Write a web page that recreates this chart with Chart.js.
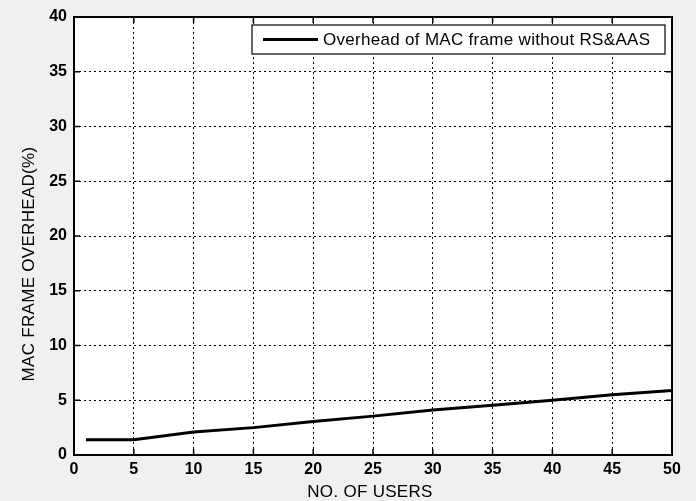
<!DOCTYPE html>
<html>
<head>
<meta charset="utf-8">
<script src="https://cdn.jsdelivr.net/npm/chart.js@4"></script>
<style>
  html, body { margin: 0; padding: 0; background: #f0f0f0; }
  #wrap { width: 696px; height: 501px; }
</style>
</head>
<body>
<div id="wrap"><canvas id="overheadChart" width="696" height="501"></canvas></div>
<script>
// values
const users = [1, 5, 10, 15, 20, 25, 30, 35, 40, 45, 50];
const overhead = [1.4, 1.4, 2.1, 2.5, 3.05, 3.55, 4.1, 4.55, 5.0, 5.5, 5.9];
const xTicks = [0, 5, 10, 15, 20, 25, 30, 35, 40, 45, 50];
const yTicks = [0, 5, 10, 15, 20, 25, 30, 35, 40];
const seriesLabel = 'Overhead of MAC frame without RS&AAS';
const xTitle = 'NO. OF USERS';
const yTitle = 'MAC FRAME OVERHEAD(%)';

const FONT = '"Liberation Sans", Arial, sans-serif';

// white plot background, box frame with inward ticks, legend box, axis titles
const plotFrame = {
    id: 'plotFrame',
    beforeDraw(chart) {
        const { ctx, chartArea: a } = chart;
        ctx.save();
        ctx.fillStyle = '#ffffff';
        ctx.fillRect(a.left, a.top, a.right - a.left, a.bottom - a.top);
        ctx.restore();
    },
    afterDatasetsDraw(chart) {
        const { ctx, chartArea: a, scales } = chart;
        ctx.save();
        ctx.strokeStyle = '#000';
        ctx.lineWidth = 1.5;
        ctx.beginPath();
        xTicks.forEach(v => {
            const px = scales.x.getPixelForValue(v);
            ctx.moveTo(px, a.bottom); ctx.lineTo(px, a.bottom - 6);
            ctx.moveTo(px, a.top); ctx.lineTo(px, a.top + 6);
        });
        yTicks.forEach(v => {
            const py = scales.y.getPixelForValue(v);
            ctx.moveTo(a.left, py); ctx.lineTo(a.left + 6, py);
            ctx.moveTo(a.right, py); ctx.lineTo(a.right - 6, py);
        });
        ctx.stroke();
        ctx.lineWidth = 2;
        ctx.strokeRect(a.left, a.top, a.right - a.left, a.bottom - a.top);

        // legend box
        const boxL = 252, boxR = a.right - 7, boxT = a.top + 8, boxB = a.top + 37;
        ctx.fillStyle = '#fff';
        ctx.fillRect(boxL, boxT, boxR - boxL, boxB - boxT);
        ctx.lineWidth = 1.2;
        ctx.strokeRect(boxL, boxT, boxR - boxL, boxB - boxT);
        const midY = (boxT + boxB) / 2;
        ctx.lineWidth = 3;
        ctx.beginPath();
        ctx.moveTo(boxL + 11, midY);
        ctx.lineTo(boxL + 66, midY);
        ctx.stroke();
        ctx.fillStyle = '#000';
        ctx.font = '17px ' + FONT;
        ctx.letterSpacing = '0.3px';
        ctx.textBaseline = 'middle';
        ctx.fillText(chart.data.datasets[0].label, boxL + 71, midY + 1);

        // axis titles
        ctx.font = '17px ' + FONT;
        ctx.textAlign = 'center';
        ctx.fillText(xTitle, 370, 492);
        ctx.translate(29, 264);
        ctx.rotate(-Math.PI / 2);
        ctx.fillText(yTitle, 0, 0);
        ctx.restore();
    }
};

new Chart(document.getElementById('overheadChart'), {
    type: 'line',
    plugins: [plotFrame],
    data: {
        datasets: [{
            label: seriesLabel,
            data: users.map((u, i) => ({ x: u, y: overhead[i] })),
            borderColor: '#000',
            borderWidth: 3,
            pointRadius: 0,
            tension: 0,
            fill: false
        }]
    },
    options: {
        responsive: false,
        animation: false,
        layout: { padding: { left: 20, right: 24, top: 17, bottom: 0 } },
        plugins: { legend: { display: false }, tooltip: { enabled: false } },
        scales: {
            x: {
                type: 'linear',
                min: 0,
                max: 50,
                afterFit: s => { s.height = 46; },
                afterBuildTicks: s => { s.ticks = xTicks.map(v => ({ value: v })); },
                grid: { color: '#000', lineWidth: 1, drawTicks: false },
                border: { display: false, dash: [2, 3] },
                ticks: {
                    color: '#000',
                    padding: 5,
                    font: { family: FONT, size: 16, weight: 'bold' }
                }
            },
            y: {
                min: 0,
                max: 40,
                afterFit: s => { s.width = 54; },
                afterBuildTicks: s => { s.ticks = yTicks.map(v => ({ value: v })); },
                grid: { color: '#000', lineWidth: 1, drawTicks: false },
                border: { display: false, dash: [2, 3] },
                ticks: {
                    color: '#000',
                    padding: 7,
                    font: { family: FONT, size: 16, weight: 'bold' }
                }
            }
        }
    }
});
</script>
</body>
</html>
